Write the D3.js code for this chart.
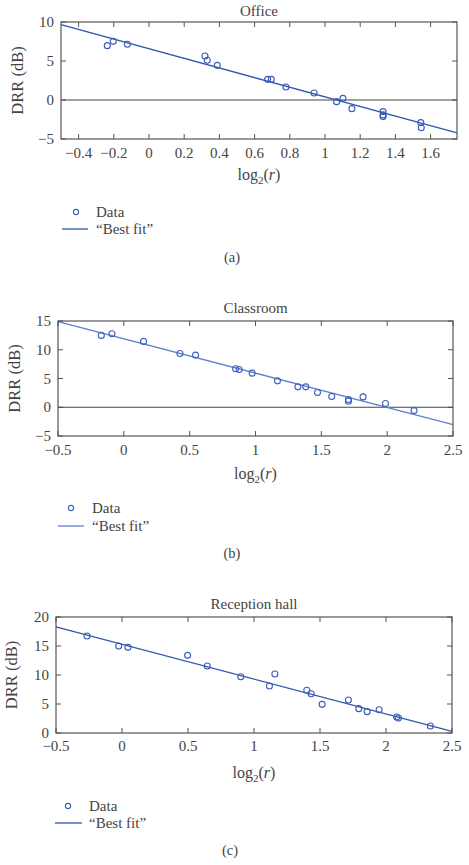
<!DOCTYPE html>
<html lang="en">
<head>
  <meta charset="utf-8">
  <title>DRR vs log2(r)</title>
  <style>
  * { margin:0; padding:0; }
  body { background:#fff; }
  text { font-family: "Liberation Serif", "DejaVu Serif", serif; fill:#444; }
  </style>
  <script src="https://cdnjs.cloudflare.com/ajax/libs/d3/7.8.5/d3.min.js"></script>
</head>
<body>
  <div id="chart"></div>
  <script type="text/javascript">
  // ---- data ----
  var officeX = [-0.237,-0.203,-0.123,0.318,0.331,0.388,0.674,0.695,0.778,0.938,1.066,1.102,1.153,1.330,1.330,1.330,1.544,1.547];
  var officeY = [6.97,7.52,7.14,5.64,5.09,4.44,2.65,2.65,1.67,0.90,-0.21,0.21,-1.11,-1.49,-1.91,-2.13,-2.90,-3.55];
  var officeFitX = [-0.5,1.75];
  var officeFitY = [9.66,-4.23];
  var officeXTicks = [-0.4,-0.2,0,0.2,0.4,0.6,0.8,1,1.2,1.4,1.6];
  var officeYTicks = [-5,0,5,10];

  var classX = [-0.171,-0.090,0.150,0.426,0.545,0.849,0.876,0.975,1.167,1.322,1.382,1.471,1.579,1.706,1.706,1.817,1.987,2.204];
  var classY = [12.5,12.79,11.45,9.36,9.07,6.69,6.57,5.93,4.59,3.55,3.55,2.56,1.86,1.34,1.05,1.80,0.64,-0.58];
  var classFitX = [-0.5,2.5];
  var classFitY = [14.88,-3.02];
  var classXTicks = [-0.5,0,0.5,1,1.5,2,2.5];
  var classYTicks = [-5,0,5,10,15];

  var hallX = [-0.265,-0.025,0.045,0.497,0.646,0.900,1.117,1.158,1.400,1.433,1.516,1.715,1.794,1.857,1.948,2.081,2.094,2.336];
  var hallY = [16.72,15.0,14.77,13.39,11.55,9.71,8.10,10.17,7.36,6.78,4.94,5.69,4.20,3.68,4.02,2.76,2.59,1.21];
  var hallFitX = [-0.5,2.5];
  var hallFitY = [18.28,0.29];
  var hallXTicks = [-0.5,0,0.5,1,1.5,2,2.5];
  var hallYTicks = [0,5,10,15,20];

  var W=469, H=865;
  var svg=d3.select("#chart").append("svg").attr("width",W).attr("height",H);

  var panels=[
    {title:"Office", tag:"(a)", xs:officeX, ys:officeY, fx:officeFitX, fy:officeFitY,
     xd:[-0.5,1.75], yd:[-5,10], xt:officeXTicks, yt:officeYTicks, zero:true,
     left:61, right:457, top:22, bottom:139, titleY:16, tickY:158, xlabY:180, ylabX:18,
     legC:[76,212], legTx:96, legL:[62,88,229], tagXY:[232,262], fit:"#2f58ad", dot:"#3a5cb8"},
    {title:"Classroom", tag:"(b)", xs:classX, ys:classY, fx:classFitX, fy:classFitY,
     xd:[-0.5,2.5], yd:[-5,15], xt:classXTicks, yt:classYTicks, zero:true,
     left:58, right:453, top:321, bottom:436, titleY:313, tickY:455, xlabY:479, ylabX:15,
     legC:[71,508], legTx:92, legL:[58,84,526], tagXY:[232,558], fit:"#5f80cc", dot:"#3f62bd"},
    {title:"Reception hall", tag:"(c)", xs:hallX, ys:hallY, fx:hallFitX, fy:hallFitY,
     xd:[-0.5,2.5], yd:[0,20], xt:hallXTicks, yt:hallYTicks, zero:false,
     left:56, right:452, top:617, bottom:733, titleY:609, tickY:751, xlabY:778, ylabX:12,
     legC:[68,806], legTx:89, legL:[55,82,823], tagXY:[230,855], fit:"#2f58ad", dot:"#3a5cb8"}
  ];

  var axisCol="#555";

  function drawPanel(p){
    var x=d3.scaleLinear().domain(p.xd).range([p.left,p.right]);
    var y=d3.scaleLinear().domain(p.yd).range([p.bottom,p.top]);
    var g=svg.append("g");
    var fmt=function(d){ return (d<0?"\u2212":"")+Math.abs(d); };

    // frame ticks, inward, on all four sides
    var tl=5;
    g.selectAll(".xtb").data(p.xt).enter().append("line")
      .attr("x1",d=>x(d)).attr("x2",d=>x(d)).attr("y1",p.bottom).attr("y2",p.bottom-tl)
      .attr("stroke",axisCol);
    g.selectAll(".xtt").data(p.xt).enter().append("line")
      .attr("x1",d=>x(d)).attr("x2",d=>x(d)).attr("y1",p.top).attr("y2",p.top+tl)
      .attr("stroke",axisCol);
    g.selectAll(".ytl").data(p.yt).enter().append("line")
      .attr("x1",p.left).attr("x2",p.left+tl).attr("y1",d=>y(d)).attr("y2",d=>y(d))
      .attr("stroke",axisCol);
    g.selectAll(".ytr").data(p.yt).enter().append("line")
      .attr("x1",p.right).attr("x2",p.right-tl).attr("y1",d=>y(d)).attr("y2",d=>y(d))
      .attr("stroke",axisCol);

    // tick labels
    g.selectAll(".xl").data(p.xt).enter().append("text")
      .attr("x",d=>x(d)).attr("y",p.tickY).attr("text-anchor","middle")
      .style("font-size","15px").text(fmt);
    g.selectAll(".yl").data(p.yt).enter().append("text")
      .attr("x",p.left-7).attr("y",d=>y(d)+5).attr("text-anchor","end")
      .style("font-size","15px").text(fmt);

    // zero line
    if(p.zero){
      g.append("line").attr("x1",p.left).attr("x2",p.right)
        .attr("y1",y(0)).attr("y2",y(0)).attr("stroke","#444").attr("stroke-width",1.2);
    }

    // fit line
    var line=d3.line().x(d=>x(d[0])).y(d=>y(d[1]));
    g.append("path").datum(d3.zip(p.fx,p.fy)).attr("d",line)
      .attr("fill","none").attr("stroke",p.fit).attr("stroke-width",1.3);

    // data points
    g.selectAll(".pt").data(d3.zip(p.xs,p.ys)).enter().append("circle")
      .attr("cx",d=>x(d[0])).attr("cy",d=>y(d[1])).attr("r",3)
      .attr("fill","none").attr("stroke",p.dot).attr("stroke-width",1.1);

    // frame
    g.append("rect").attr("x",p.left).attr("y",p.top)
      .attr("width",p.right-p.left).attr("height",p.bottom-p.top)
      .attr("fill","none").attr("stroke",axisCol).attr("stroke-width",1.2);

    // title
    g.append("text").attr("x",(p.left+p.right)/2).attr("y",p.titleY)
      .attr("text-anchor","middle").style("font-size","15px").text(p.title);

    // x label: log2(r)
    var xl=g.append("text").attr("x",(p.left+p.right)/2).attr("y",p.xlabY)
      .attr("text-anchor","middle").style("font-size","16px");
    xl.append("tspan").text("log");
    xl.append("tspan").attr("dy",4).style("font-size","11px").text("2");
    xl.append("tspan").attr("dy",-4).text("(");
    xl.append("tspan").style("font-style","italic").text("r");
    xl.append("tspan").text(")");

    // y label
    g.append("text").attr("transform","translate("+p.ylabX+","+((p.top+p.bottom)/2)+") rotate(-90)")
      .attr("text-anchor","middle").attr("dy",5).style("font-size","16.5px").text("DRR (dB)");

    // legend
    g.append("circle").attr("cx",p.legC[0]).attr("cy",p.legC[1]).attr("r",2.6)
      .attr("fill","none").attr("stroke",p.dot).attr("stroke-width",1.1);
    g.append("text").attr("x",p.legTx).attr("y",p.legC[1]+5).style("font-size","15px").text("Data");
    g.append("line").attr("x1",p.legL[0]).attr("x2",p.legL[1]).attr("y1",p.legL[2]).attr("y2",p.legL[2])
      .attr("stroke",p.fit).attr("stroke-width",1.3);
    g.append("text").attr("x",p.legTx).attr("y",p.legL[2]+5).style("font-size","15px").text("\u201CBest fit\u201D");

    // panel tag
    g.append("text").attr("x",p.tagXY[0]).attr("y",p.tagXY[1]).attr("text-anchor","middle")
      .style("font-size","14.5px").text(p.tag);
  }

  panels.forEach(drawPanel);
  </script>
</body>
</html>
